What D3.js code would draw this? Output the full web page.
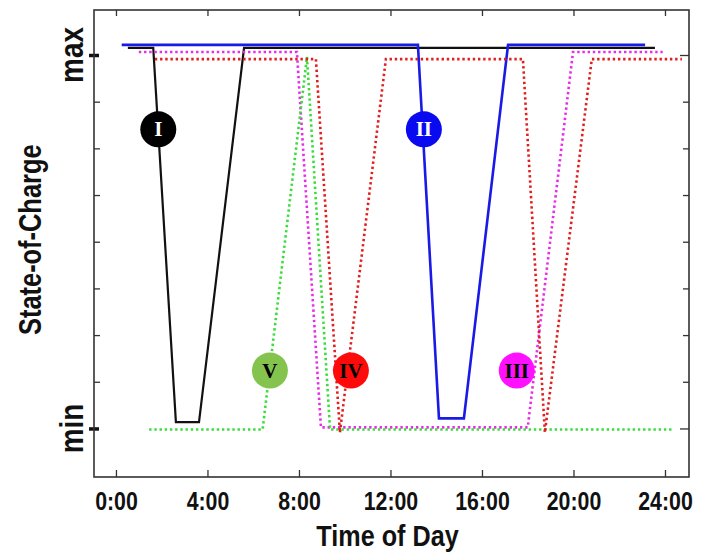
<!DOCTYPE html>
<html>
<head>
<meta charset="utf-8">
<script src="https://cdn.jsdelivr.net/npm/d3@7"></script>
<style>
  html, body { margin: 0; padding: 0; background: #fff; }
  svg { display: block; }
  text { font-family: "Liberation Sans", Arial, sans-serif; font-weight: bold; fill: #111; }
</style>
</head>
<body>
<svg id="chart" width="709" height="554"></svg>
<script>
// ---------------- DATA ----------------
const xTickHours  = [0, 4, 8, 12, 16, 20, 24];
const xTickLabels = ["0:00", "4:00", "8:00", "12:00", "16:00", "20:00", "24:00"];
const socMinorTicks = [0.125, 0.25, 0.375, 0.5, 0.625, 0.75, 0.875];
const socMajorTicks = [0, 1];
const socMajorLabels = ["min", "max"];
const xTitle = "Time of Day";
const yTitle = "State-of-Charge";

// Scenario I (black, solid)
const seriesIHours = [0.52, 1.63, 2.62, 3.63, 5.6, 23.56];
const seriesISoc   = [1.019, 1.019, 0.017, 0.017, 1.019, 1.019];
// Scenario II (blue, solid)
const seriesIIHours = [0.25, 13.2, 14.12, 15.21, 17.14, 23.13];
const seriesIISoc   = [1.027, 1.027, 0.027, 0.027, 1.027, 1.027];
// Scenario III (magenta, dotted)
const seriesIIIHours = [1.0, 7.91, 8.96, 18.0, 19.98, 23.9];
const seriesIIISoc   = [1.008, 1.008, 0.003, 0.003, 1.008, 1.008];
// Scenario IV (red, dotted)
const seriesIVHours = [1.7, 8.74, 9.79, 11.8, 17.79, 18.75, 20.8, 24.74];
const seriesIVSoc   = [0.989, 0.989, -0.011, 0.989, 0.989, -0.011, 0.989, 0.989];
// Scenario V (green, dotted)
const seriesVHours = [1.45, 6.41, 8.35, 9.36, 24.34];
const seriesVSoc   = [-0.003, -0.003, 0.995, -0.003, -0.003];

// Scenario badges
const badgeNames  = ["I", "II", "III", "IV", "V"];
const badgeHours  = [1.85, 13.46, 17.52, 10.27, 6.73];
const badgeSoc    = [0.801, 0.801, 0.155, 0.155, 0.155];

// ---------------- STYLE ----------------
const W = 709, H = 554;
const margin = { left: 94, right: 20, top: 10, bottom: 77 };
const plotW = W - margin.left - margin.right;
const plotH = H - margin.top - margin.bottom;

const svg = d3.select("#chart");
const g = svg.append("g").attr("transform", `translate(${margin.left},${margin.top})`);

const x = d3.scaleLinear().domain([-0.96, 25.05]).range([0, plotW]);
const y = d3.scaleLinear().domain([-0.13, 1.1205]).range([plotH, 0]);

const frameColor = "#333";

function styleAxis(sel) {
  sel.select(".domain").remove();
  sel.selectAll(".tick line").attr("stroke", frameColor).attr("stroke-width", 1.3);
}

const bottomAxis = g.append("g").attr("transform", `translate(0,${plotH})`)
  .call(d3.axisBottom(x).tickValues(xTickHours)
    .tickFormat((d, i) => xTickLabels[i]).tickSizeInner(-7).tickSizeOuter(0));
styleAxis(bottomAxis);
bottomAxis.selectAll(".tick text")
  .attr("dy", null).attr("y", 33)
  .attr("transform", "scale(0.82,1)")
  .style("font-size", "26px")
  .style("font-family", "'Liberation Sans', Arial, sans-serif")
  .style("font-weight", "bold")
  .attr("fill", "#111");

const topAxis = g.append("g")
  .call(d3.axisTop(x).tickValues(xTickHours).tickFormat("").tickSizeInner(-6).tickSizeOuter(0));
styleAxis(topAxis);

const leftMinor = g.append("g")
  .call(d3.axisLeft(y).tickValues(socMinorTicks).tickFormat("").tickSizeInner(-6).tickSizeOuter(0));
styleAxis(leftMinor);

const leftMajor = g.append("g")
  .call(d3.axisLeft(y).tickValues(socMajorTicks).tickFormat("").tickSizeInner(5).tickSizeOuter(0));
styleAxis(leftMajor);
leftMajor.selectAll(".tick line").attr("x1", 5).attr("stroke", "#111").attr("stroke-width", 3.5);

const rightAxis = g.append("g").attr("transform", `translate(${plotW},0)`)
  .call(d3.axisRight(y).tickValues(socMinorTicks.concat(socMajorTicks)).tickFormat("").tickSizeInner(-6).tickSizeOuter(0));
styleAxis(rightAxis);
rightAxis.selectAll(".tick line").filter(d => socMajorTicks.includes(d)).attr("x2", -9);

g.append("rect").attr("x", 0).attr("y", 0).attr("width", plotW).attr("height", plotH)
  .attr("fill", "none").attr("stroke", frameColor).attr("stroke-width", 1.6);

// min / max labels
socMajorTicks.forEach((v, i) => {
  svg.append("text")
    .attr("transform", `translate(83,${margin.top + y(v)}) rotate(-90) scale(0.82,1)`)
    .attr("text-anchor", "middle")
    .style("font-size", "34px")
    .text(socMajorLabels[i]);
});

// Axis titles
svg.append("text")
  .attr("transform", `translate(${margin.left + plotW / 2 - 4},546) scale(0.84,1)`)
  .attr("text-anchor", "middle")
  .style("font-size", "30px")
  .text(xTitle);

svg.append("text")
  .attr("transform", `translate(41,${margin.top + y(0.5) - 2}) rotate(-90) scale(0.82,1)`)
  .attr("text-anchor", "middle")
  .style("font-size", "31px")
  .text(yTitle);

// Lines
const line = d3.line().x(d => x(d[0])).y(d => y(d[1]));
const zip = (hs, ss) => hs.map((h, i) => [h, ss[i]]);

const series = [
  { data: zip(seriesIHours, seriesISoc),     color: "#111111", width: 2.2, dash: null },
  { data: zip(seriesIIHours, seriesIISoc),   color: "#1a1ae6", width: 2.6, dash: null },
  { data: zip(seriesIIIHours, seriesIIISoc), color: "#e62ee6", width: 2.6, dash: "2.4,2.8" },
  { data: zip(seriesVHours, seriesVSoc),     color: "#3ddc3d", width: 2.6, dash: "2.4,2.8" },
  { data: zip(seriesIVHours, seriesIVSoc),   color: "#e02020", width: 2.6, dash: "2.4,2.8" }
];

g.selectAll("path.series").data(series).enter().append("path")
  .attr("class", "series")
  .attr("d", d => line(d.data))
  .attr("fill", "none")
  .attr("stroke", d => d.color)
  .attr("stroke-width", d => d.width)
  .attr("stroke-dasharray", d => d.dash)
  .attr("stroke-linejoin", "miter");

// Badges
const badgeFill = ["#000000", "#0a0af0", "#ff10ff", "#ff0a0a", "#84c44e"];
const badgeText = ["#ffffff", "#ffffff", "#000000", "#000000", "#000000"];
const badges = g.selectAll("g.badge").data(badgeNames).enter().append("g")
  .attr("class", "badge")
  .attr("transform", (d, i) => `translate(${x(badgeHours[i])},${y(badgeSoc[i])})`);
badges.append("circle").attr("r", 18).attr("fill", (d, i) => badgeFill[i]);
badges.append("text")
  .attr("text-anchor", "middle")
  .attr("y", 7)
  .style("font-family", "'Liberation Serif', 'Times New Roman', serif")
  .style("font-size", "21px")
  .style("font-weight", "bold")
  .style("fill", (d, i) => badgeText[i])
  .text(d => d);
</script>
</body>
</html>
